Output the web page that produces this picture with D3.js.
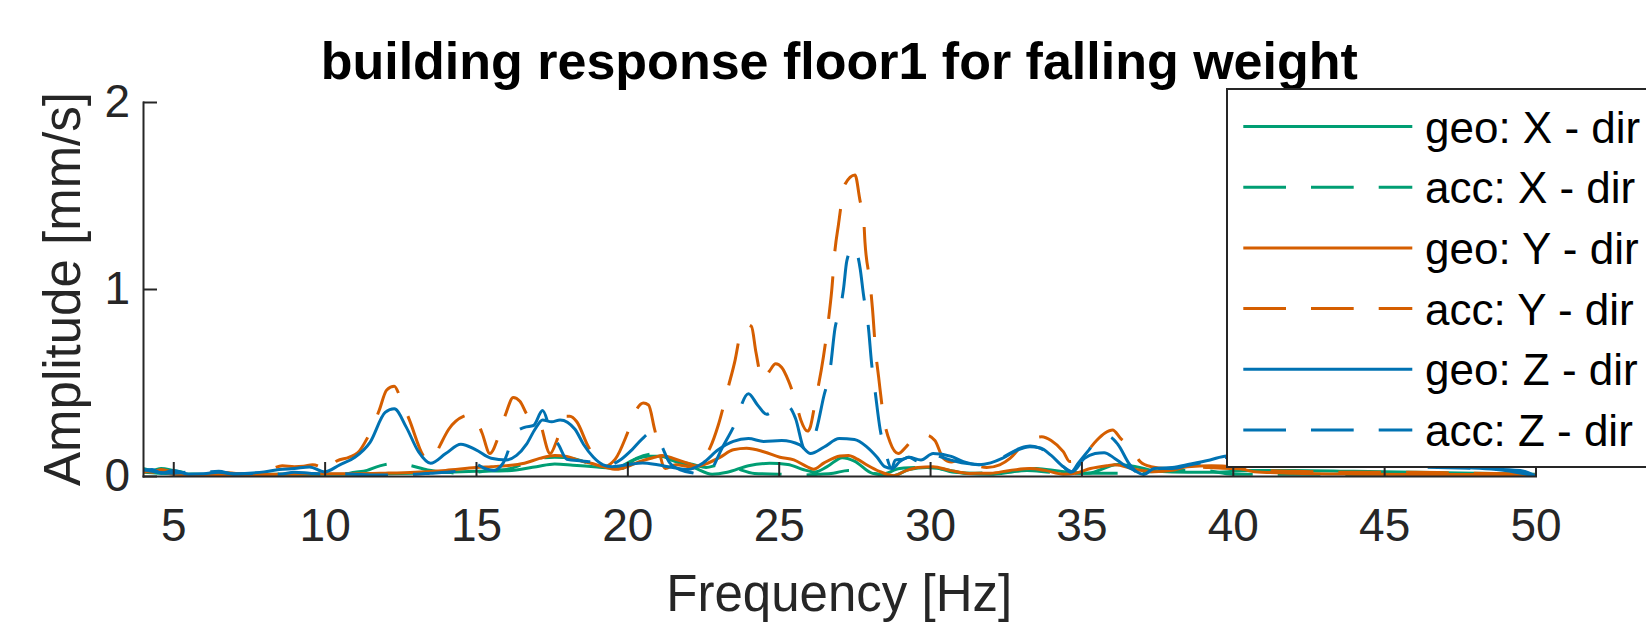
<!DOCTYPE html>
<html lang="en">
<head>
  <meta charset="UTF-8">
  <title>building response floor1 for falling weight</title>
  <style>
    body { margin: 0; background: #fff; }
    svg { display: block; font-family: "Liberation Sans", Arial, Helvetica, sans-serif; }
    .axis path, .axis line { stroke: #262626; stroke-width: 2; }
    .axis text { fill: #262626; font-size: 46px; }
  </style>
</head>
<body>
<div id="chart"></div>

<script src="https://cdn.jsdelivr.net/npm/d3@7/dist/d3.min.js"></script>
<script>
  // series data: [frequency Hz, amplitude mm/s]
  const geoX = [[4,0.02],[4.5,0.015],[5,0.012],[6,0.01],[7,0.008],[8,0.01],[9,0.01],[10,0.01],[11,0.01],[12,0.012],[13,0.015],[14,0.02],[15,0.025],[16,0.028],[17,0.05],[17.6,0.064],[18.2,0.058],[19,0.048],[19.6,0.042],[20.2,0.086],[20.7,0.105],[21.1,0.105],[21.5,0.082],[22.2,0.045],[22.8,0.01],[23.3,0.02],[24,0.055],[24.7,0.068],[25.3,0.062],[25.8,0.035],[26.2,0.022],[26.6,0.05],[27.1,0.098],[27.5,0.08],[28.1,0.014],[28.8,0.002],[29.3,0.035],[29.9,0.046],[30.5,0.035],[31.2,0.014],[32,0.01],[32.7,0.022],[33.5,0.04],[34.3,0.025],[35.2,0.015],[36.2,0.062],[36.8,0.05],[37.5,0.025],[38.5,0.02],[39.5,0.02],[40.5,0.03],[42,0.03],[44,0.025],[46,0.02],[48,0.015],[50,0.01]];

  const accX = [[4,0.04],[4.3,0.03],[4.6,0.04],[5,0.03],[5.5,0.015],[6,0.01],[7,0.012],[8,0.01],[9,0.008],[10,0.01],[10.5,0.008],[11,0.02],[11.4,0.03],[11.8,0.053],[12.2,0.065],[12.7,0.06],[13.4,0.032],[14,0.02],[14.5,0.015],[15,0.02],[15.5,0.03],[16,0.035],[16.5,0.06],[17.1,0.094],[17.6,0.1],[18.2,0.094],[18.6,0.075],[19.2,0.055],[19.8,0.04],[20.3,0.094],[20.86,0.118],[21.3,0.1],[21.74,0.077],[22.2,0.06],[22.6,0.045],[23.06,0.06],[23.5,0.045],[24.2,0.014],[25,0.01],[25.8,0.005],[26.3,0.01],[26.8,0.015],[27.3,0.03],[27.9,0.02],[28.4,0.01],[29,0.04],[29.5,0.045],[30,0.05],[30.8,0.02],[31.5,0.015],[32.4,0.02],[33.2,0.03],[34,0.02],[35,0.015],[36,0.015],[37,0.02],[38,0.03],[39,0.03],[40,0.01],[42,0.01],[44,0.008],[46,0.01],[48,0.01],[50,0.008]];

  const geoY = [[4,0.02],[4.5,0.03],[5,0.01],[6,0.008],[7,0.005],[8,0.008],[9,0.01],[10,0.012],[11,0.012],[12,0.015],[13,0.02],[14,0.03],[15,0.045],[15.5,0.05],[16,0.055],[16.6,0.068],[17.1,0.094],[17.6,0.11],[18,0.105],[18.35,0.086],[18.8,0.068],[19.2,0.05],[19.65,0.036],[20,0.05],[20.4,0.077],[20.9,0.1],[21.15,0.11],[21.5,0.095],[22,0.068],[22.3,0.053],[22.6,0.065],[23.06,0.1],[23.5,0.14],[23.94,0.148],[24.5,0.13],[25.04,0.1],[25.5,0.086],[25.93,0.05],[26.15,0.036],[26.5,0.07],[27.03,0.107],[27.3,0.11],[27.6,0.09],[27.9,0.06],[28.35,0.023],[28.79,0.002],[29.23,0.03],[29.6,0.045],[30.1,0.05],[30.66,0.03],[31.3,0.014],[32,0.015],[32.64,0.03],[33.3,0.04],[33.8,0.03],[34.4,0.01],[34.8,0.015],[35.3,0.04],[35.84,0.055],[36.1,0.06],[36.8,0.035],[37.4,0.023],[38,0.03],[38.5,0.05],[39.3,0.055],[40,0.05],[40.7,0.023],[42,0.015],[44,0.01],[46,0.008],[48,0.008],[50,0.005]];

  const accY = [[4,0.03],[4.3,0.02],[4.6,0.035],[5,0.02],[5.5,0.01],[6,0.012],[6.5,0.02],[7,0.015],[7.5,0.01],[8,0.015],[8.3,0.04],[8.6,0.055],[9,0.05],[9.3,0.052],[9.6,0.06],[9.9,0.045],[10.1,0.02],[10.4,0.08],[10.8,0.1],[11.1,0.125],[11.4,0.2],[11.8,0.35],[12.05,0.46],[12.3,0.48],[12.5,0.42],[12.8,0.3],[13.3,0.1],[13.55,0.08],[13.8,0.16],[14.1,0.25],[14.6,0.32],[14.9,0.33],[15.2,0.23],[15.46,0.12],[15.74,0.21],[16,0.34],[16.23,0.42],[16.45,0.4],[16.73,0.32],[17.06,0.3],[17.45,0.12],[17.67,0.19],[17.94,0.32],[18.1,0.32],[18.33,0.29],[18.7,0.16],[19.2,0.05],[19.6,0.09],[19.98,0.22],[20.25,0.34],[20.53,0.39],[20.7,0.38],[20.9,0.25],[21.25,0.04],[21.6,0.06],[22,0.05],[22.3,0.04],[22.46,0.08],[22.73,0.15],[23,0.27],[23.34,0.48],[23.56,0.62],[23.72,0.75],[23.95,0.81],[24.1,0.8],[24.25,0.66],[24.47,0.51],[24.69,0.56],[24.9,0.6],[25.1,0.58],[25.32,0.51],[25.54,0.41],[25.73,0.3],[25.95,0.24],[26.04,0.26],[26.2,0.39],[26.48,0.64],[26.64,0.83],[26.75,0.99],[26.86,1.21],[26.97,1.34],[27.19,1.56],[27.52,1.61],[27.69,1.47],[27.8,1.39],[27.85,1.25],[28.02,1.03],[28.1,0.89],[28.2,0.67],[28.3,0.53],[28.46,0.32],[28.68,0.18],[28.95,0.12],[29.23,0.16],[29.56,0.22],[29.85,0.22],[30.16,0.19],[30.44,0.094],[30.7,0.075],[30.94,0.085],[31.4,0.06],[31.87,0.046],[32.3,0.06],[32.64,0.094],[32.97,0.15],[33.3,0.19],[33.69,0.21],[34,0.19],[34.4,0.13],[34.62,0.077],[34.9,0.09],[35.18,0.13],[35.5,0.19],[35.78,0.23],[36.03,0.246],[36.3,0.2],[36.66,0.15],[36.94,0.077],[37.3,0.05],[37.8,0.04],[38.5,0.05],[39.2,0.045],[40,0.04],[41,0.03],[42,0.025],[44,0.02],[46,0.02],[48,0.015],[50,0.01]];

  const geoZ = [[4,0.03],[4.3,0.035],[4.6,0.015],[5,0.03],[5.5,0.01],[6,0.012],[6.5,0.02],[7,0.012],[7.5,0.015],[8,0.022],[8.5,0.035],[9,0.04],[9.5,0.048],[10,0.022],[10.5,0.06],[11,0.1],[11.5,0.18],[12,0.34],[12.3,0.36],[12.7,0.26],[13.1,0.13],[13.5,0.068],[14,0.12],[14.5,0.17],[15,0.14],[15.5,0.095],[16,0.086],[16.34,0.11],[16.67,0.17],[16.95,0.25],[17.2,0.3],[17.5,0.29],[17.78,0.3],[18.27,0.25],[18.55,0.17],[18.88,0.1],[19.2,0.06],[19.5,0.05],[20,0.06],[20.5,0.07],[21,0.06],[21.5,0.045],[22,0.035],[22.5,0.07],[23,0.14],[23.5,0.185],[24,0.2],[24.5,0.185],[25.1,0.19],[25.7,0.166],[26.05,0.12],[26.5,0.155],[27,0.2],[27.5,0.195],[27.9,0.157],[28.25,0.1],[28.5,0.05],[28.75,0.04],[29,0.077],[29.3,0.1],[29.7,0.086],[30.1,0.12],[30.7,0.105],[31.1,0.077],[31.6,0.06],[32,0.07],[32.4,0.095],[32.9,0.14],[33.3,0.157],[33.65,0.15],[34,0.11],[34.4,0.05],[34.7,0.023],[35.1,0.094],[35.45,0.12],[35.75,0.125],[36.1,0.094],[36.4,0.06],[36.75,0.03],[37.05,0.008],[37.4,0.04],[38,0.045],[38.6,0.064],[39.25,0.086],[39.8,0.107],[40.5,0.11],[41.5,0.1],[43,0.08],[45,0.06],[47,0.05],[49,0.03],[50,0]];

  const accZ = [[4,0.035],[4.5,0.02],[5,0.015],[5.5,0.02],[6,0.02],[6.5,0.025],[7,0.01],[7.5,0.012],[8,0.015],[8.5,0.01],[9,0.02],[9.5,0.015],[10,0.01],[10.5,0.012],[11,0.01],[11.5,0.005],[12,0.005],[12.5,0.008],[13,0.01],[13.5,0.015],[14,0.02],[14.5,0.03],[14.9,0.068],[15.3,0.04],[15.6,0.03],[15.9,0.07],[16.3,0.23],[16.6,0.26],[16.9,0.27],[17.2,0.35],[17.45,0.25],[17.75,0.16],[18,0.09],[18.5,0.08],[19,0.07],[19.3,0.055],[19.8,0.09],[20.15,0.14],[20.5,0.2],[20.75,0.23],[21.1,0.17],[21.4,0.07],[21.8,0.03],[22.2,0.015],[22.5,0.005],[22.8,0.04],[23.1,0.14],[23.5,0.26],[24,0.44],[24.3,0.38],[24.6,0.33],[24.9,0.36],[25.2,0.38],[25.4,0.36],[25.55,0.31],[25.87,0.14],[26,0.15],[26.25,0.25],[26.48,0.42],[26.7,0.57],[26.86,0.79],[27.03,0.89],[27.14,1],[27.25,1.15],[27.47,1.23],[27.69,1.11],[27.8,0.97],[27.96,0.8],[28.07,0.6],[28.18,0.46],[28.35,0.25],[28.51,0.14],[28.73,0.04],[28.85,0.085],[29.1,0.09],[29.3,0.1],[29.6,0.08],[30,0.12],[30.4,0.1],[30.8,0.08],[31.3,0.065],[31.8,0.06],[32.4,0.1],[33,0.15],[33.3,0.16],[33.6,0.15],[34,0.11],[34.4,0.05],[34.65,0.02],[34.9,0.07],[35.25,0.14],[35.55,0.2],[35.9,0.21],[36.2,0.17],[36.6,0.06],[37,0.005],[37.4,0.04],[38,0.04],[38.6,0.06],[39.3,0.08],[39.8,0.1],[40.5,0.1],[42,0.09],[44,0.07],[46,0.05],[48,0.04],[49.5,0.03],[50,0]];

  const seriesNames = ["geo: X - dir", "acc: X - dir", "geo: Y - dir", "acc: Y - dir", "geo: Z - dir", "acc: Z - dir"];
  const seriesData = [geoX, accX, geoY, accY, geoZ, accZ];
  const seriesColors = ["#009E73", "#009E73", "#D55E00", "#D55E00", "#0072B2", "#0072B2"];
  const seriesDashed = [false, true, false, true, false, true];

  const xTicks = [5, 10, 15, 20, 25, 30, 35, 40, 45, 50];
  const yTicks = [0, 1, 2];

  const width = 1646, height = 622;
  const plot = {left: 143, right: 1535.5, top: 102, bottom: 476};
  const dash = "42.7,25";

  const svg = d3.select("#chart").append("svg")
    .attr("width", width)
    .attr("height", height);

  svg.append("rect").attr("width", width).attr("height", height).attr("fill", "#fff");

  const xScale = d3.scaleLinear().domain([4, 50]).range([plot.left, plot.right]);
  const yScale = d3.scaleLinear().domain([0, 2]).range([plot.bottom, plot.top]);

  svg.append("clipPath").attr("id", "plot-clip")
    .append("rect")
    .attr("x", plot.left).attr("y", plot.top - 5)
    .attr("width", plot.right - plot.left)
    .attr("height", plot.bottom - plot.top + 5);

  const line = d3.line()
    .x(function(d) { return xScale(d[0]); })
    .y(function(d) { return yScale(d[1]); })
    .curve(d3.curveMonotoneX);

  const lines = svg.append("g").attr("clip-path", "url(#plot-clip)");
  seriesData.forEach(function(data, i) {
    lines.append("path")
      .datum(data)
      .attr("fill", "none")
      .attr("stroke", seriesColors[i])
      .attr("stroke-width", 3)
      .attr("stroke-dasharray", seriesDashed[i] ? dash : null)
      .attr("d", line);
  });

  // axes, ticks pointing inward like matlab
  const xAxis = svg.append("g")
    .attr("class", "axis")
    .attr("transform", "translate(0," + plot.bottom + ")")
    .call(d3.axisBottom(xScale).tickValues(xTicks).tickFormat(d3.format("d"))
      .tickSizeInner(-14).tickSizeOuter(0).tickPadding(32));
  xAxis.selectAll("text").attr("font-family", null).attr("font-size", null);

  const yAxis = svg.append("g")
    .attr("class", "axis")
    .attr("transform", "translate(" + plot.left + ",0)")
    .call(d3.axisLeft(yScale).tickValues(yTicks).tickFormat(d3.format("d"))
      .tickSizeInner(-14).tickSizeOuter(0).tickPadding(13));
  yAxis.selectAll("text").attr("font-family", null).attr("font-size", null);
  svg.selectAll(".axis .domain").attr("stroke-linecap", "square");

  svg.append("text")
    .attr("x", (plot.left + plot.right) / 2)
    .attr("y", 79)
    .attr("text-anchor", "middle")
    .attr("font-weight", "bold")
    .attr("font-size", 52)
    .attr("fill", "#000")
    .text("building response floor1 for falling weight");

  svg.append("text")
    .attr("x", (plot.left + plot.right) / 2)
    .attr("y", 611)
    .attr("text-anchor", "middle")
    .attr("font-size", 51)
    .attr("fill", "#262626")
    .text("Frequency [Hz]");

  svg.append("text")
    .attr("transform", "translate(80," + (plot.top + plot.bottom) / 2 + ") rotate(-90)")
    .attr("text-anchor", "middle")
    .attr("font-size", 51)
    .attr("fill", "#262626")
    .text("Amplitude [mm/s]");

  // legend box, runs off the right edge of the figure
  const legend = svg.append("g");
  legend.append("rect")
    .attr("x", 1227).attr("y", 89)
    .attr("width", 500).attr("height", 378)
    .attr("fill", "#fff")
    .attr("stroke", "#262626")
    .attr("stroke-width", 2);

  const rowY = d3.scaleLinear().domain([0, 5]).range([126.5, 430]);
  seriesNames.forEach(function(name, i) {
    const y = rowY(i);
    legend.append("line")
      .attr("x1", 1243.3).attr("x2", 1412.3)
      .attr("y1", y).attr("y2", y)
      .attr("stroke", seriesColors[i])
      .attr("stroke-width", 3)
      .attr("stroke-dasharray", seriesDashed[i] ? dash : null);
    legend.append("text")
      .attr("x", 1425)
      .attr("y", y + 16)
      .attr("font-size", 44)
      .attr("fill", "#000")
      .text(name);
  });
</script>
</body>
</html>
